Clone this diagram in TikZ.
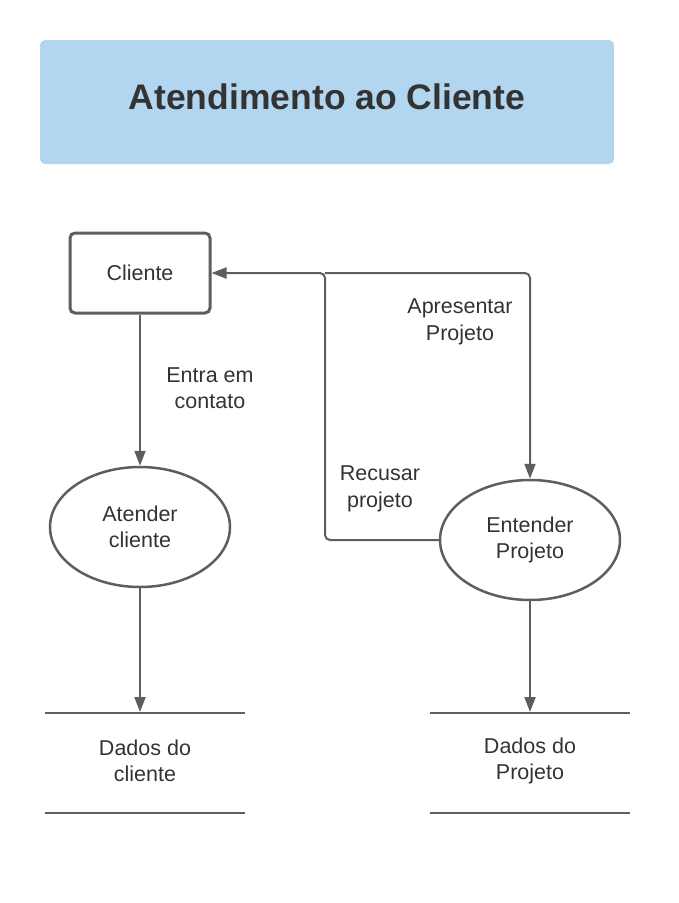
\documentclass[tikz,border=0pt]{standalone}
\usepackage{fontspec}
\setmainfont{Liberation Sans}
\usetikzlibrary{arrows.meta,shapes.geometric}
\definecolor{ln}{HTML}{5E5E5E}
\definecolor{tx}{HTML}{333333}
\definecolor{ttl}{HTML}{B2D5F0}
\begin{document}
\begin{tikzpicture}[x=1pt,y=-1pt,
  conn/.style={draw=ln,line width=2pt,-{Triangle[length=15pt,width=11pt]}},
  procell/.style={ellipse,draw=ln,line width=2.5pt,minimum width=180pt,minimum height=120pt,inner sep=0pt},
  lbl/.style={text=tx,font=\fontsize{21.5}{26.5}\selectfont,align=center},
  store/.style={draw=ln,line width=2.5pt}]
\useasboundingbox (0,0) rectangle (678,903);
\fill[ttl,rounded corners=5pt] (40,40) rectangle (614,164);
\node[text=tx,font=\fontsize{35.5}{40}\selectfont\bfseries] (title) at (327,97) {Atendimento ao Cliente};
\node[draw=ln,line width=3pt,rounded corners=5pt,minimum width=140pt,minimum height=80pt,lbl] (cli) at (140,273) {Cliente};
\node[procell,lbl] (at) at (140,527) {Atender\\cliente};
\node[procell,lbl] (en) at (530,540) {Entender\\Projeto};
\coordinate (s1a) at (45,713); \coordinate (s1b) at (245,713);
\coordinate (s1c) at (45,813); \coordinate (s1d) at (245,813);
\coordinate (s2a) at (430,713); \coordinate (s2b) at (630,713);
\coordinate (s2c) at (430,813); \coordinate (s2d) at (630,813);
\draw[store] (s1a) -- (s1b); \draw[store] (s1c) -- (s1d);
\draw[store] (s2a) -- (s2b); \draw[store] (s2c) -- (s2d);
\node[lbl] (d1) at (145,761) {Dados do\\cliente};
\node[lbl] (d2) at (530,761) {Dados do\\Projeto};
\coordinate (j1) at (325,273);
\coordinate (j2) at (530,273);
\coordinate (j3) at (325,540);
\draw[conn] (cli.south) -- (at.north);
\draw[conn] (at.south) -- (140,712);
\draw[conn] (en.south) -- (530,712);
\draw[conn,rounded corners=5pt] (j1) -- (j2) -- (en.north);
\draw[conn,rounded corners=5pt] (en.west) -- (j3) -- (j1) -- (cli.east);
\node[lbl] (l1) at (210,388) {Entra em\\contato};
\node[lbl] (l2) at (460,322) {Apresentar\\Projeto};
\node[lbl] (l3) at (380,489) {Recusar\\projeto};
\end{tikzpicture}
\end{document}
